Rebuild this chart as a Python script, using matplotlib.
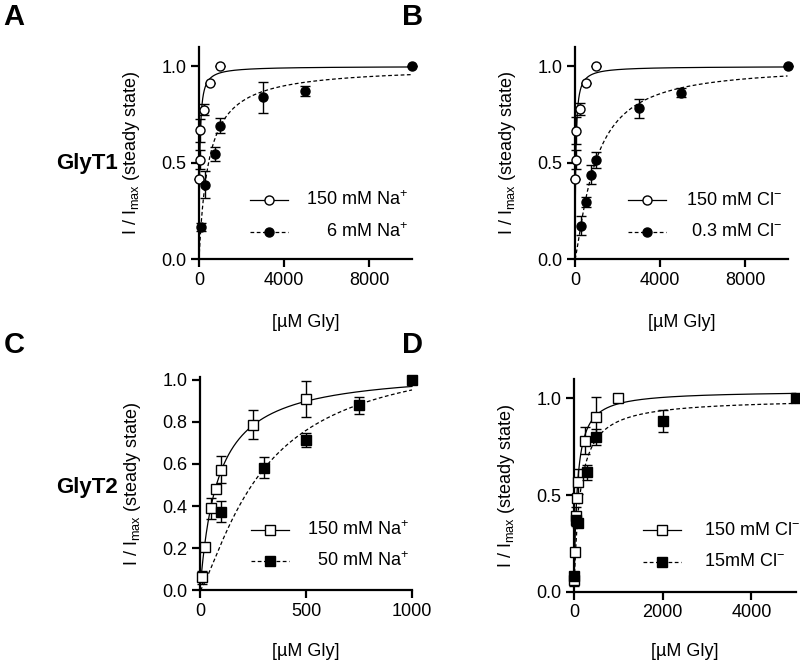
import numpy as np
import matplotlib
matplotlib.use("Agg")
import matplotlib.pyplot as plt

plt.rcParams['font.family'] = ['Liberation Sans', 'DejaVu Sans']
plt.rcParams['mathtext.fontset'] = 'custom'
plt.rcParams['mathtext.rm'] = 'Liberation Sans'
plt.rcParams['mathtext.it'] = 'Liberation Sans'

# ---------------- data ----------------
# Panel A: GlyT1, Na+ dependence
a_x_150 = [10, 25, 50, 250, 500, 1000]
a_y_150 = [0.414, 0.517, 0.669, 0.776, 0.914, 1.0]
a_e_150 = [0.0, 0.05, 0.06, 0.03, 0.0, 0.0]
a_x_6 = [100, 300, 750, 1000, 3000, 5000, 10000]
a_y_6 = [0.168, 0.387, 0.545, 0.692, 0.839, 0.871, 1.0]
a_e_6 = [0.02, 0.07, 0.035, 0.04, 0.08, 0.025, 0.0]
a_fit_150 = dict(imax=1.0, k=35, n=1.0)
a_fit_6 = dict(imax=1.0, k=450, n=1.0)

# Panel B: GlyT1, Cl- dependence
b_x_150 = [10, 25, 50, 250, 500, 1000]
b_y_150 = [0.414, 0.517, 0.667, 0.78, 0.914, 1.0]
b_e_150 = [0.0, 0.05, 0.07, 0.03, 0.0, 0.0]
b_x_03 = [300, 500, 750, 1000, 3000, 5000, 10000]
b_y_03 = [0.175, 0.297, 0.438, 0.515, 0.782, 0.864, 1.0]
b_e_03 = [0.047, 0.026, 0.05, 0.043, 0.05, 0.023, 0.0]
b_fit_150 = dict(imax=1.0, k=35, n=1.0)
b_fit_03 = dict(imax=1.0, k=950, n=1.25)

# Panel C: GlyT2, Na+ dependence
c_x_150 = [10, 25, 50, 75, 100, 250, 500]
c_y_150 = [0.062, 0.204, 0.39, 0.483, 0.573, 0.787, 0.909]
c_e_150 = [0.03, 0.0, 0.05, 0.0, 0.065, 0.07, 0.085]
c_x_50 = [100, 300, 500, 750, 1000]
c_y_50 = [0.373, 0.581, 0.713, 0.878, 1.0]
c_e_50 = [0.05, 0.05, 0.035, 0.04, 0.0]
c_fit_150 = dict(imax=1.05, k=85, n=1.0)
c_fit_50 = dict(imax=1.15, k=300, n=1.3)

# Panel D: GlyT2, Cl- dependence
d_x_150 = [10, 25, 50, 75, 100, 250, 500, 1000]
d_y_150 = [0.062, 0.207, 0.39, 0.483, 0.569, 0.78, 0.905, 1.0]
d_e_150 = [0.03, 0.0, 0.05, 0.0, 0.065, 0.07, 0.1, 0.0]
d_x_15 = [10, 50, 100, 300, 500, 2000, 5000]
d_y_15 = [0.08, 0.37, 0.354, 0.617, 0.80, 0.884, 1.0]
d_e_15 = [0.02, 0.0, 0.02, 0.04, 0.04, 0.058, 0.0]
d_fit_150 = dict(imax=1.04, k=70, n=1.0)
d_fit_15 = dict(imax=1.0, k=135, n=1.0)

xlabel = '[\u00b5M Gly]'
ylabel = r'I / I$_{\mathregular{max}}$ (steady state)'


def hill(x, imax, k, n):
    x = np.asarray(x, dtype=float)
    return imax * x**n / (x**n + k**n)


W, H = 800, 661
fig = plt.figure(figsize=(W / 100, H / 100), dpi=100)


def px_axes(x0, x1, ytop, ybot):
    return fig.add_axes([x0 / W, (H - ybot) / H, (x1 - x0) / W, (ybot - ytop) / H])


FS_TICK = 13
FS_LEG = 13


def style(ax, xlim, ylim, xticks, yticks, yfmt, xpad):
    ax.set_xlim(*xlim)
    ax.set_ylim(*ylim)
    for s in ['top', 'right']:
        ax.spines[s].set_visible(False)
    for s in ['left', 'bottom']:
        ax.spines[s].set_linewidth(1.6)
    ax.set_xticks(xticks)
    ax.set_yticks(yticks)
    ax.set_yticklabels([yfmt.format(v) for v in yticks])
    ax.tick_params(direction='out', length=6, width=1.6, labelsize=FS_TICK, pad=3)
    ax.set_xlabel(xlabel, fontsize=FS_TICK, labelpad=xpad)
    ax.set_ylabel(ylabel, fontsize=FS_TICK, labelpad=14)


def series(ax, x, y, e, marker, filled, fit, dashed, xmax):
    xs = np.linspace(0, xmax, 2000)
    ls = (0, (3, 2)) if dashed else '-'
    ax.plot(xs, hill(xs, **fit), color='black', lw=0.9, ls=ls, zorder=2, clip_on=False)
    ax.errorbar(x, y, yerr=e, fmt=marker, ms=6.5,
                mfc='black' if filled else 'white', mec='black', mew=1.0,
                ecolor='black', elinewidth=1.0, capsize=3.5, capthick=1.0,
                zorder=4 if filled else 3, clip_on=False)


def legend(ax, rows, x0, x1, ty, align):
    # rows: list of (y, label, marker, filled, dashed)
    for yy, lab, marker, filled, dashed in rows:
        ls = (0, (3, 2)) if dashed else '-'
        ax.plot([x0, x1], [yy, yy], transform=ax.transAxes, color='black', lw=0.9,
                ls=ls, clip_on=False)
        ax.plot([(x0 + x1) / 2], [yy], transform=ax.transAxes, marker=marker, ms=6.5,
                mfc='black' if filled else 'white', mec='black', mew=1.0,
                ls='none', clip_on=False)
        ax.text(ty, yy, lab, transform=ax.transAxes, ha=align, va='center',
                fontsize=FS_LEG)


# ---- Panel A ----
axA = px_axes(199, 411.5, 47, 259.3)
style(axA, (0, 10000), (0, 1.1), [0, 4000, 8000], [0.0, 0.5, 1.0], '{:.1f}', 18)
series(axA, a_x_150, a_y_150, a_e_150, 'o', False, a_fit_150, False, 10000)
series(axA, a_x_6, a_y_6, a_e_6, 'o', True, a_fit_6, True, 10000)
legend(axA, [(0.279, '150 mM Na$^{+}$', 'o', False, False),
             (0.129, '6 mM Na$^{+}$', 'o', True, True)], 0.24, 0.419, 0.985, 'right')

# ---- Panel B ----
axB = px_axes(575, 787.5, 47, 259.3)
style(axB, (0, 10000), (0, 1.1), [0, 4000, 8000], [0.0, 0.5, 1.0], '{:.1f}', 18)
series(axB, b_x_150, b_y_150, b_e_150, 'o', False, b_fit_150, False, 10000)
series(axB, b_x_03, b_y_03, b_e_03, 'o', True, b_fit_03, True, 10000)
legend(axB, [(0.279, '150 mM Cl$^{-}$', 'o', False, False),
             (0.129, '0.3 mM Cl$^{-}$', 'o', True, True)], 0.251, 0.428, 0.975, 'right')

# ---- Panel C ----
axC = px_axes(200, 412, 376.5, 590.3)
style(axC, (0, 1000), (0, 1.015), [0, 500, 1000], [0.0, 0.2, 0.4, 0.6, 0.8, 1.0], '{:.1f}', 16.5)
series(axC, c_x_150, c_y_150, c_e_150, 's', False, c_fit_150, False, 1000)
series(axC, c_x_50, c_y_50, c_e_50, 's', True, c_fit_50, True, 1000)
legend(axC, [(0.282, '150 mM Na$^{+}$', 's', False, False),
             (0.137, '50 mM Na$^{+}$', 's', True, True)], 0.24, 0.42, 0.985, 'right')

# ---- Panel D ----
axD = px_axes(574, 795.7, 379, 591.7)
style(axD, (0, 5000), (0, 1.1), [0, 2000, 4000], [0.0, 0.5, 1.0], '{:.1f}', 15.5)
series(axD, d_x_150, d_y_150, d_e_150, 's', False, d_fit_150, False, 5000)
series(axD, d_x_15, d_y_15, d_e_15, 's', True, d_fit_15, True, 5000)
legend(axD, [(0.29, '150 mM Cl$^{-}$', 's', False, False),
             (0.14, '15mM Cl$^{-}$', 's', True, True)], 0.3126, 0.483, 0.586, 'left')

# ---- panel letters & row labels ----
for lab, x, y in [('A', 14, 17), ('B', 413, 17), ('C', 14, 345), ('D', 412, 345)]:
    fig.text(x / W, 1 - y / H, lab, fontsize=21, fontweight='bold', ha='center', va='center')
for lab, y in [('GlyT1', 163), ('GlyT2', 487)]:
    fig.text(87 / W, 1 - y / H, lab, fontsize=16, fontweight='bold', ha='center', va='center')

fig.savefig('out.png', dpi=100)
